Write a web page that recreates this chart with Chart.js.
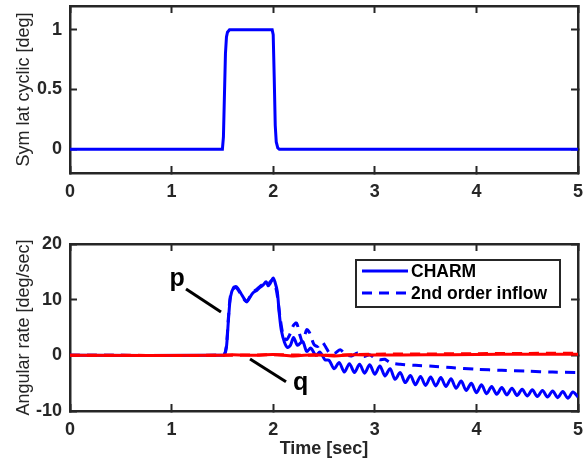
<!DOCTYPE html>
<html><head><meta charset="utf-8">
<script src="https://cdn.jsdelivr.net/npm/chart.js@4.4.1/dist/chart.umd.min.js"></script>
<style>
html,body{margin:0;padding:0;background:#fff;}
#wrap{position:relative;width:585px;height:466px;overflow:hidden;}
#c1{position:absolute;left:0;top:0;}
#c2{position:absolute;left:0;top:230px;}
</style></head><body>
<div id="wrap"><canvas id="c1" width="585" height="205"></canvas><canvas id="c2" width="585" height="236"></canvas></div>
<script>
// ---- data ----
const xTicks = [0, 1, 2, 3, 4, 5];
const topYTicks = [0, 0.5, 1];
const botYTicks = [-10, 0, 10, 20];

const topT     = [0, 1.50, 1.51, 1.52, 1.53, 1.54, 1.55, 1.57, 1.99, 2.00, 2.01, 2.02, 2.03, 2.045, 2.06, 5];
const topDelta = [0, 0,    0.1,  0.45, 0.8,  0.94, 0.98, 1.0,  1.0,  0.96, 0.6,  0.2,  0.06, 0.01,  0,    0];

const charmT = [0, 1.50, 1.52, 1.54, 1.56, 1.58, 1.61, 1.64, 1.68, 1.72, 1.74, 1.77, 1.80, 1.84, 1.87, 1.90, 1.93, 1.95, 1.97, 2.00, 2.02, 2.04, 2.06, 2.08, 2.11, 2.14, 2.17, 2.20, 2.24, 2.29, 2.33, 2.37, 2.42, 2.46, 2.51, 2.55, 2.60,
  2.65, 2.70, 2.75, 2.80, 2.85, 2.90, 2.95, 3.00, 3.05, 3.10, 3.15, 3.20, 3.25, 3.30, 3.35, 3.40, 3.45, 3.50, 3.55, 3.60, 3.65, 3.70, 3.75, 3.80, 3.85, 3.90, 3.95, 4.00,
  4.05, 4.10, 4.15, 4.20, 4.25, 4.30, 4.35, 4.40, 4.45, 4.50, 4.55, 4.60, 4.65, 4.70, 4.75, 4.80, 4.85, 4.90, 4.95, 5.00];
const charmP = [0, 0, 0.1, 1.5, 6.5, 10.5, 12.2, 12.3, 11.2, 10.0, 9.6, 10.4, 11.2, 11.7, 12.2, 12.6, 13.2, 12.5, 12.9, 13.9, 13.0, 11.5, 7.5, 4.5, 2.4, 1.4, 1.8, 3.2, 1.8, 2.5, 0.7, 1.3, 0.0, 0.6, -0.8, -0.9, -2.4,
  -1.3, -3.0, -1.5, -3.1, -1.6, -3.2, -1.7, -3.4, -1.9, -3.7, -2.4, -4.3, -3.1, -4.9, -3.6, -5.3, -3.8, -5.4, -3.9, -5.5, -4.0, -5.6, -4.2, -5.9, -4.6, -6.3, -5.0, -6.7,
  -5.3, -6.9, -5.6, -7.0, -5.8, -7.1, -5.9, -7.2, -6.1, -7.3, -6.2, -7.4, -6.3, -7.5, -6.4, -7.6, -6.5, -7.7, -6.6, -7.5];

const inflT = [0, 1.50, 1.52, 1.54, 1.56, 1.58, 1.61, 1.64, 1.68, 1.72, 1.74, 1.77, 1.80, 1.84, 1.87, 1.90, 1.93, 1.95, 1.97, 2.00, 2.02, 2.04, 2.07, 2.10, 2.13, 2.16, 2.20, 2.23, 2.26, 2.29, 2.33, 2.36, 2.40, 2.44, 2.48, 2.52, 2.56, 2.61, 2.66, 2.71, 2.77, 2.83, 2.89, 2.95, 3.00, 3.05, 3.10, 3.15, 3.25, 3.40, 3.60, 3.75, 4.00, 4.25, 4.50, 4.75, 5.00];
const inflP = [0, 0, 0.1, 1.8, 7.0, 10.8, 12.0, 12.1, 11.0, 9.9, 9.7, 10.5, 11.3, 11.9, 12.4, 12.8, 13.0, 12.6, 13.2, 13.6, 12.6, 10.8, 6.5, 3.5, 2.8, 3.6, 5.4, 5.8, 3.8, 2.4, 4.6, 4.0, 2.0, 1.6, 2.4, 1.4, 0.3, 0.4, 1.0, 0.2, -0.1, 0.4, -0.2, 0.1, -0.5, -0.8, -0.7, -1.3, -1.6, -1.8, -2.0, -2.2, -2.5, -2.7, -2.85, -3.0, -3.1];

const qT     = [0, 1.5, 1.6, 1.8, 2.0, 2.2, 2.4, 2.6, 2.8, 3.0, 3.5, 4.0, 4.5, 5.0];
const qCharm = [0, 0, 0.1, 0.0, 0.15, -0.1, 0.1, -0.1, 0.1, 0.05, 0.1, 0.15, 0.2, 0.2];
const qInflT = [0, 1.5, 2.0, 2.5, 3.0, 3.5, 4.0, 4.5, 5.0];
const qInfl  = [0, 0, 0.1, 0.0, 0.2, 0.25, 0.3, 0.35, 0.4];

const legendLabels = ['CHARM', '2nd order inflow'];
const pLabel = {text: 'p', t: 0.98, v: 12.4, line: [[1.142, 11.9], [1.486, 7.78]]};
const qLabel = {text: 'q', t: 2.195, v: -6.23, line: [[1.772, -0.66], [2.126, -4.74]]};

// ---- helpers ----
const AX = '#262626';
const FAM = '"Liberation Sans", Arial, sans-serif';
const BLUE = '#0000ff', RED = '#ff0000';
const pts = (t, v) => t.map((x, i) => ({x: x, y: v[i]}));
const noPad = s => { s.paddingLeft = 0; s.paddingRight = 0; s.paddingTop = 0; s.paddingBottom = 0; };

function frame(yTicks, ymin, ymax, xAxisH, xTitle) {
  const tickGrid = {drawOnChartArea: false, drawTicks: true, tickLength: -7, tickColor: AX, tickWidth: 2};
  const tickFont = {family: FAM, size: 18, weight: 'bold'};
  const fmt = v => String(v);
  return {
    x: {type: 'linear', position: 'bottom', min: 0, max: 5,
      afterBuildTicks: s => { s.ticks = xTicks.map(v => ({value: v})); },
      afterFit: s => { s.height = xAxisH; noPad(s); },
      grid: tickGrid, border: {color: AX, width: 2.5},
      ticks: {color: AX, font: tickFont, padding: 15, maxRotation: 0, autoSkip: false, callback: fmt},
      title: xTitle ? {display: true, text: xTitle, color: AX, font: {family: FAM, size: 18, weight: 'bold', lineHeight: 1.2}, padding: {top: 0, bottom: 6}} : {display: false}
    },
    x2: {type: 'linear', position: 'top', min: 0, max: 5,
      afterBuildTicks: s => { s.ticks = xTicks.map(v => ({value: v})); },
      afterFit: s => { s.height = 0; noPad(s); },
      grid: tickGrid, border: {color: AX, width: 2.5}, ticks: {display: false}
    },
    y: {type: 'linear', position: 'left', min: ymin, max: ymax,
      afterBuildTicks: s => { s.ticks = yTicks.map(v => ({value: v})); },
      afterFit: s => { s.width = 70; noPad(s); },
      grid: tickGrid, border: {color: AX, width: 2.5},
      ticks: {color: AX, font: tickFont, padding: 15, callback: fmt},
      title: {display: true, text: '', color: AX, font: {family: FAM, size: 18, weight: 'normal', lineHeight: 1.2}, padding: {top: 13, bottom: 0}}
    },
    y2: {type: 'linear', position: 'right', min: ymin, max: ymax,
      afterBuildTicks: s => { s.ticks = yTicks.map(v => ({value: v})); },
      afterFit: s => { s.width = 0; noPad(s); },
      grid: tickGrid, border: {color: AX, width: 2.5}, ticks: {display: false}
    }
  };
}

// ---- top chart ----
const s1 = frame(topYTicks, -0.2, 1.2, 32, null);
s1.y.title.text = 'Sym lat cyclic [deg]';
new Chart(document.getElementById('c1'), {
  type: 'line',
  data: {datasets: [{data: pts(topT, topDelta), borderColor: BLUE, borderWidth: 3, pointRadius: 0, tension: 0, fill: false}]},
  options: {
    responsive: false, animation: false, devicePixelRatio: 1,
    layout: {padding: {top: 6, right: 7, left: 0, bottom: 0}},
    plugins: {legend: {display: false}, tooltip: {enabled: false}},
    scales: s1
  }
});

// ---- bottom chart ----
const s2 = frame(botYTicks, -10, 20, 55, 'Time [sec]');
s2.y.title.text = 'Angular rate [deg/sec]';

const overlay = {
  id: 'overlay',
  afterDraw(chart) {
    const ctx = chart.ctx, xs = chart.scales.x, ys = chart.scales.y, ca = chart.chartArea;
    ctx.save();
    // annotations
    ctx.strokeStyle = '#000'; ctx.lineWidth = 3; ctx.lineCap = 'butt';
    ctx.fillStyle = '#000';
    ctx.font = 'bold 25px ' + FAM; ctx.textBaseline = 'alphabetic'; ctx.textAlign = 'left';
    [pLabel, qLabel].forEach(a => {
      ctx.beginPath();
      ctx.moveTo(xs.getPixelForValue(a.line[0][0]), ys.getPixelForValue(a.line[0][1]));
      ctx.lineTo(xs.getPixelForValue(a.line[1][0]), ys.getPixelForValue(a.line[1][1]));
      ctx.stroke();
      ctx.fillText(a.text, xs.getPixelForValue(a.t), ys.getPixelForValue(a.v));
    });
    // legend
    const bw = 204, bh = 47;
    const bx = ca.right - 18 - bw, by = ca.top + 16;
    ctx.fillStyle = '#fff';
    ctx.fillRect(bx, by, bw, bh);
    ctx.strokeStyle = AX; ctx.lineWidth = 2;
    ctx.strokeRect(bx, by, bw, bh);
    const rows = [by + 11, by + 33];
    ctx.strokeStyle = BLUE; ctx.lineWidth = 3;
    ctx.setLineDash([]);
    ctx.beginPath(); ctx.moveTo(bx + 6, rows[0]); ctx.lineTo(bx + 52, rows[0]); ctx.stroke();
    ctx.setLineDash([10, 7]);
    ctx.beginPath(); ctx.moveTo(bx + 6, rows[1]); ctx.lineTo(bx + 52, rows[1]); ctx.stroke();
    ctx.setLineDash([]);
    ctx.fillStyle = '#000';
    ctx.font = 'bold 17.5px ' + FAM; ctx.textBaseline = 'middle';
    ctx.fillText(legendLabels[0], bx + 55, rows[0] + 1);
    ctx.fillText(legendLabels[1], bx + 55, rows[1] + 1);
    ctx.restore();
  }
};

new Chart(document.getElementById('c2'), {
  type: 'line',
  data: {datasets: [
    {label: 'q CHARM', data: pts(qT, qCharm), borderColor: RED, borderWidth: 3, pointRadius: 0, tension: 0.3, order: 0},
    {label: 'q inflow', data: pts(qInflT, qInfl), borderColor: RED, borderWidth: 3, borderDash: [10, 7], pointRadius: 0, tension: 0.3, order: 1},
    {label: legendLabels[0], data: pts(charmT, charmP), borderColor: BLUE, borderWidth: 3, pointRadius: 0, tension: 0.3, order: 2},
    {label: legendLabels[1], data: pts(inflT, inflP), borderColor: BLUE, borderWidth: 3, borderDash: [10, 7], pointRadius: 0, tension: 0.3, order: 3}
  ]},
  options: {
    responsive: false, animation: false, devicePixelRatio: 1,
    layout: {padding: {top: 14, right: 7, left: 0, bottom: 0}},
    plugins: {legend: {display: false}, tooltip: {enabled: false}},
    scales: s2
  },
  plugins: [overlay]
});
</script>
</body></html>
